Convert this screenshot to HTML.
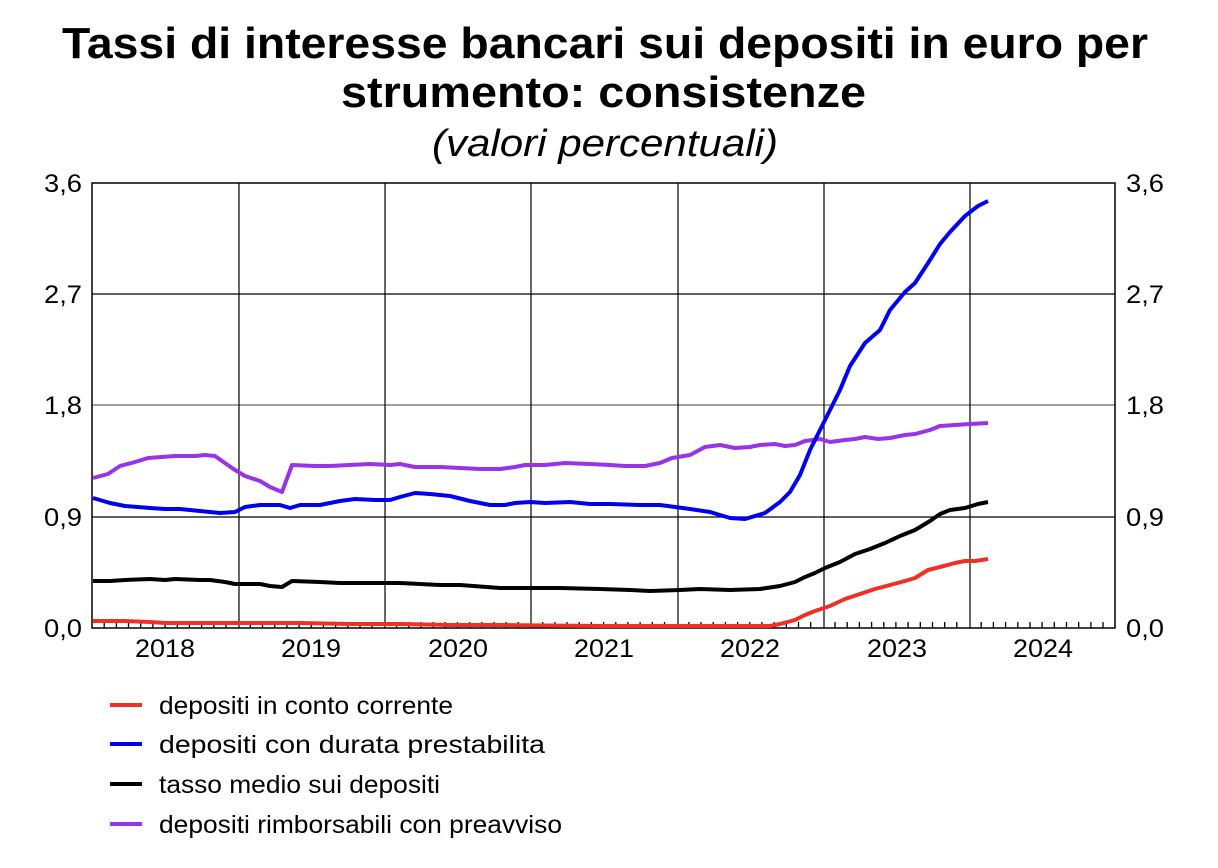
<!DOCTYPE html>
<html><head><meta charset="utf-8"><style>
html,body{margin:0;padding:0;background:#fff;}
svg{display:block;font-family:"Liberation Sans",Arial,sans-serif;}
</style></head><body>
<svg width="1218" height="868" viewBox="0 0 1218 868" xmlns="http://www.w3.org/2000/svg">
<text x="62" y="58" font-size="44" font-weight="bold" textLength="1086" lengthAdjust="spacingAndGlyphs">Tassi di interesse bancari sui depositi in euro per</text>
<text x="341" y="107" font-size="44" font-weight="bold" textLength="525" lengthAdjust="spacingAndGlyphs">strumento: consistenze</text>
<text x="432" y="156" font-size="38" font-style="italic" textLength="346" lengthAdjust="spacingAndGlyphs">(valori percentuali)</text>

<g stroke="#000" stroke-width="1.2">
<line x1="92" y1="294" x2="1115" y2="294"/>
<line x1="92" y1="405" x2="1115" y2="405" stroke="#666"/>
<line x1="92" y1="517" x2="1115" y2="517"/>
<line x1="239" y1="183" x2="239" y2="628"/>
<line x1="385" y1="183" x2="385" y2="628"/>
<line x1="531" y1="183" x2="531" y2="628"/>
<line x1="678" y1="183" x2="678" y2="628"/>
<line x1="824" y1="183" x2="824" y2="628"/>
<line x1="970" y1="183" x2="970" y2="628"/>
</g>
<path stroke="#000" stroke-width="1.3" fill="none" d="M104.2 622V628M116.4 622V628M128.5 622V628M140.7 622V628M152.9 622V628M165.1 622V628M177.3 622V628M189.4 622V628M201.6 622V628M213.8 622V628M226 622V628M250.3 622V628M262.5 622V628M274.7 622V628M286.9 622V628M299.1 622V628M311.2 622V628M323.4 622V628M335.6 622V628M347.8 622V628M360 622V628M372.1 622V628M396.5 622V628M408.7 622V628M420.9 622V628M433.1 622V628M445.2 622V628M457.4 622V628M469.6 622V628M481.8 622V628M494 622V628M506.1 622V628M518.3 622V628M542.7 622V628M554.9 622V628M567 622V628M579.2 622V628M591.4 622V628M603.6 622V628M615.8 622V628M627.9 622V628M640.1 622V628M652.3 622V628M664.5 622V628M688.9 622V628M701 622V628M713.2 622V628M725.4 622V628M737.6 622V628M749.8 622V628M761.9 622V628M774.1 622V628M786.3 622V628M798.5 622V628M810.7 622V628M835 622V628M847.2 622V628M859.4 622V628M871.6 622V628M883.8 622V628M895.9 622V628M908.1 622V628M920.3 622V628M932.5 622V628M944.7 622V628M956.8 622V628M981.2 622V628M993.4 622V628M1005.6 622V628M1017.8 622V628M1030 622V628M1042.1 622V628M1054.3 622V628M1066.5 622V628M1078.7 622V628M1090.9 622V628M1103 622V628"/>
<rect x="92" y="183" width="1023" height="445" fill="none" stroke="#000" stroke-width="1.5"/>

<g font-size="25" fill="#000">
<text x="44" y="192" textLength="38" lengthAdjust="spacingAndGlyphs">3,6</text>
<text x="44" y="303" textLength="38" lengthAdjust="spacingAndGlyphs">2,7</text>
<text x="44" y="414" textLength="38" lengthAdjust="spacingAndGlyphs">1,8</text>
<text x="44" y="526" textLength="38" lengthAdjust="spacingAndGlyphs">0,9</text>
<text x="44" y="637" textLength="38" lengthAdjust="spacingAndGlyphs">0,0</text>
<text x="1126" y="192" textLength="38" lengthAdjust="spacingAndGlyphs">3,6</text>
<text x="1126" y="303" textLength="38" lengthAdjust="spacingAndGlyphs">2,7</text>
<text x="1126" y="414" textLength="38" lengthAdjust="spacingAndGlyphs">1,8</text>
<text x="1126" y="526" textLength="38" lengthAdjust="spacingAndGlyphs">0,9</text>
<text x="1126" y="637" textLength="38" lengthAdjust="spacingAndGlyphs">0,0</text>
<text x="135" y="657" textLength="60" lengthAdjust="spacingAndGlyphs">2018</text>
<text x="281" y="657" textLength="60" lengthAdjust="spacingAndGlyphs">2019</text>
<text x="428" y="657" textLength="60" lengthAdjust="spacingAndGlyphs">2020</text>
<text x="574" y="657" textLength="60" lengthAdjust="spacingAndGlyphs">2021</text>
<text x="720" y="657" textLength="60" lengthAdjust="spacingAndGlyphs">2022</text>
<text x="867" y="657" textLength="60" lengthAdjust="spacingAndGlyphs">2023</text>
<text x="1013" y="657" textLength="60" lengthAdjust="spacingAndGlyphs">2024</text>
</g>

<g fill="none" stroke-width="4" stroke-linejoin="round">
<polyline stroke="#ee3124" points="93,621 125,621 150,622 165,623 200,623 240,623 300,623 350,624 400,624 450,625 500,625 600,626 700,626 770,626 780,624 795,620 805,615 815,611 830,606 845,599 860,594 875,589 890,585 905,581 915,578 928,570 940,567 955,563 965,561 975,561 988,559"/>
<polyline stroke="#000" points="93,581 110,581 125,580 150,579 165,580 175,579 200,580 210,580 225,582 235,584 260,584 270,586 282,587 292,581 320,582 340,583 370,583 400,583 440,585 460,585 500,588 515,588 530,588 560,588 600,589 630,590 650,591 680,590 700,589 730,590 760,589 780,586 795,582 805,577 815,573 825,568 840,562 855,554 870,549 885,543 900,536 915,530 930,521 940,514 950,510 965,508 978,504 988,502"/>
<polyline stroke="#9933e6" points="93,478 108,474 120,466 135,462 148,458 175,456 195,456 205,455 215,456 222,461 235,470 245,476 260,481 270,487 282,492 292,465 315,466 330,466 350,465 370,464 390,465 400,464 415,467 440,467 460,468 480,469 500,469 515,467 525,465 545,465 565,463 590,464 610,465 625,466 645,466 660,463 672,458 690,455 705,447 720,445 735,448 750,447 760,445 775,444 785,446 795,445 805,441 820,439 830,442 845,440 855,439 865,437 878,439 890,438 905,435 915,434 930,430 940,426 955,425 970,424 988,423"/>
<polyline stroke="#0000ee" points="93,498 110,503 125,506 150,508 165,509 180,509 200,511 220,513 235,512 245,507 260,505 280,505 290,508 300,505 320,505 340,501 355,499 375,500 390,500 400,497 415,493 430,494 450,496 470,501 490,505 505,505 515,503 530,502 545,503 570,502 590,504 610,504 640,505 660,505 690,509 710,512 730,518 745,519 765,513 780,502 790,492 800,475 810,450 820,430 830,410 840,390 850,366 865,343 880,330 890,310 905,292 915,283 930,260 940,244 950,232 965,216 978,206 988,201"/>
</g>

<g stroke-width="4">
<line x1="110" y1="705" x2="142" y2="705" stroke="#ee3124"/>
<line x1="110" y1="744" x2="142" y2="744" stroke="#0000ee"/>
<line x1="110" y1="784" x2="142" y2="784" stroke="#000"/>
<line x1="110" y1="824" x2="142" y2="824" stroke="#9933e6"/>
</g>
<g font-size="25" fill="#000">
<text x="159" y="714" textLength="294" lengthAdjust="spacingAndGlyphs">depositi in conto corrente</text>
<text x="159" y="753" textLength="386" lengthAdjust="spacingAndGlyphs">depositi con durata prestabilita</text>
<text x="159" y="793" textLength="281" lengthAdjust="spacingAndGlyphs">tasso medio sui depositi</text>
<text x="159" y="833" textLength="403" lengthAdjust="spacingAndGlyphs">depositi rimborsabili con preavviso</text>
</g>
</svg>
</body></html>
